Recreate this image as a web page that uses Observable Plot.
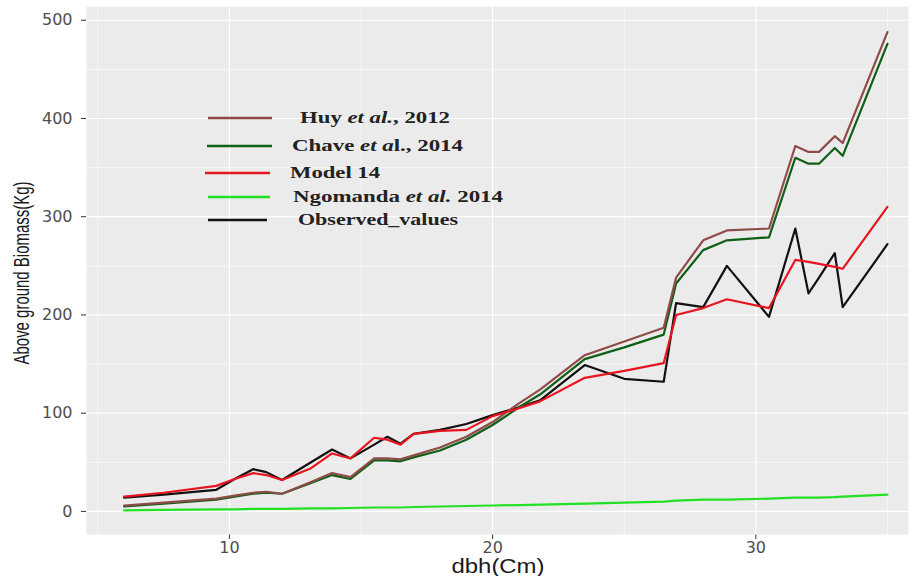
<!DOCTYPE html>
<html><head><meta charset="utf-8">
<script src="https://cdn.jsdelivr.net/npm/d3@7"></script>
<script src="https://cdn.jsdelivr.net/npm/@observablehq/plot@0.6"></script>
<style>body{margin:0;background:#fff;}</style>
</head><body><div id="chart"></div>
<script>
const dbh      = [6, 7.5, 9.5, 10.2, 10.9, 11.4, 12.0, 13.1, 13.9, 14.6, 15.5, 16.0, 16.5, 17.0, 18.0, 19.0, 20.0, 21.0, 21.8, 23.5, 25.0, 26.5, 26.97, 28.0, 28.9, 30.5, 31.5, 32.0, 32.4, 33.0, 33.3, 35.0];
const observed = [14, 17, 22, 33, 43, 40, 32, 50, 63, 54, 68, 76, 69, 79, 83, 89, 98, 106, 113, 149, 135, 132, 212, 208, 250, 198, 288, 222, 238, 263, 208, 272];
const model14  = [15, 19, 26, 33, 39, 37, 32, 44, 59, 54, 75, 73, 68, 79, 82, 83, 97, 105, 112, 136, 143, 151, 200, 207, 216, 207, 256, 254, 252, 249, 247, 310];
const huy      = [6, 9, 13, 16, 19, 20, 18, 30, 39, 35, 54, 54, 53, 57, 65, 76, 91, 110, 124, 159, 173, 187, 238, 276, 286, 288, 372, 366, 366, 382, 375, 488];
const chave    = [5, 8, 12, 15, 18, 19, 18, 29, 37, 33, 52, 52, 51, 55, 62, 73, 88, 106, 119, 155, 167, 180, 232, 266, 276, 279, 360, 354, 354, 370, 362, 476];
const ngomanda = [1, 1.5, 2, 2, 2.5, 2.5, 2.5, 3, 3, 3.5, 4, 4, 4, 4.5, 5, 5.5, 6, 6.5, 7, 8, 9, 10, 11, 12, 12, 13, 14, 14, 14, 14.5, 15, 17];

const seriesNames  = ["Huy et al., 2012", "Chave et al., 2014", "Model 14", "Ngomanda et al. 2014", "Observed_values"];
const seriesColors = ["#8E4B47", "#0F5F14", "#E8141E", "#22E022", "#111111"];
// legend label parts: [text, italic]
const legendParts = [
  [["Huy ", false], ["et al.", true], [", 2012", false]],
  [["Chave ", false], ["et a", true], ["l., 2014", false]],
  [["Model 14", false]],
  [["Ngomanda ", false], ["et al.", true], [" 2014", false]],
  [["Observed_values", false]]
];
const xTicks = [10, 20, 30];
const xMinor = [5, 15, 25, 35];
const yTicks = [0, 100, 200, 300, 400, 500];
const yMinor = [50, 150, 250, 350, 450];

const seriesValues = [huy, chave, model14, ngomanda, observed];
const drawOrder = [3, 4, 1, 0, 2];
const rows = [];
drawOrder.forEach(k => seriesValues[k].forEach((v, i) => rows.push({series: seriesNames[k], dbh: dbh[i], agb: v})));

const chart = Plot.plot({
  width: 913, height: 576,
  marginLeft: 86, marginRight: 5, marginTop: 6, marginBottom: 42,
  x: {domain: [4.57, 35.8], ticks: xTicks, tickSize: 5, tickPadding: 2, label: null},
  y: {domain: [-23.5, 514], ticks: yTicks, tickSize: 5, tickPadding: 9, label: null},
  color: {domain: seriesNames, range: seriesColors},
  style: {fontFamily: "DejaVu Sans", fontSize: "16px", color: "#4D4D4D", background: "#fff", overflow: "visible"},
  marks: [
    Plot.frame({fill: "#EBEBEB", stroke: null}),
    Plot.ruleX(xMinor, {stroke: "#fff", strokeWidth: 0.6}),
    Plot.ruleY(yMinor, {stroke: "#fff", strokeWidth: 0.6}),
    Plot.ruleX(xTicks, {stroke: "#fff", strokeWidth: 1.2}),
    Plot.ruleY(yTicks, {stroke: "#fff", strokeWidth: 1.2}),
    Plot.line(rows, {x: "dbh", y: "agb", z: "series", stroke: "series", strokeWidth: 2.2, strokeLinejoin: "round"})
  ]
});
document.getElementById("chart").appendChild(chart);

const svg = d3.select(chart);
svg.selectAll("[aria-label$='axis'] path, [aria-label$='tick'] path").attr("stroke", "#333");

// axis titles
svg.append("text")
  .attr("transform", "translate(29,273) rotate(-90)")
  .attr("text-anchor", "middle")
  .attr("font-family", "Liberation Sans").attr("font-size", 22)
  .attr("textLength", 183).attr("lengthAdjust", "spacingAndGlyphs")
  .attr("fill", "#1a1a1a")
  .text("Above ground Biomass(Kg)");
svg.append("text")
  .attr("x", 498).attr("y", 573)
  .attr("text-anchor", "middle")
  .attr("font-family", "Liberation Sans").attr("font-size", 20)
  .attr("textLength", 93).attr("lengthAdjust", "spacingAndGlyphs")
  .attr("fill", "#1a1a1a")
  .text("dbh(Cm)");

// legend
const legY = [118, 146, 173, 197, 220];
const legX1 = [208, 207, 205, 208, 208];
const legX2 = [272, 272, 270, 270, 267];
const legTx = [300, 292, 290, 293, 298];
const legW = [150, 171, 90, 210, 160];
const lg = svg.append("g").attr("text-anchor", "start");
seriesNames.forEach((name, i) => {
  lg.append("line").attr("x1", legX1[i]).attr("x2", legX2[i]).attr("y1", legY[i]).attr("y2", legY[i])
    .attr("stroke", seriesColors[i]).attr("stroke-width", 2.5);
  const t = lg.append("text").attr("x", legTx[i]).attr("y", legY[i] + 5)
    .attr("text-anchor", "start")
    .attr("font-family", "Liberation Serif").attr("font-weight", "bold").attr("font-size", 16)
    .attr("fill", "#222")
    .attr("textLength", legW[i]).attr("lengthAdjust", "spacingAndGlyphs");
  legendParts[i].forEach(([s, it]) => t.append("tspan").attr("font-style", it ? "italic" : "normal").text(s));
});
</script></body></html>
